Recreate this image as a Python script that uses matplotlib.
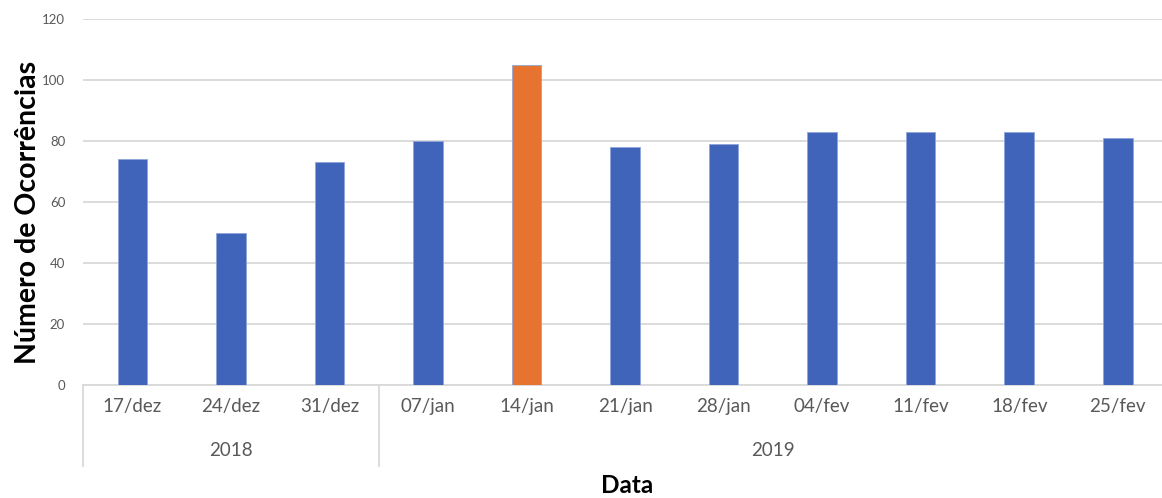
import numpy as np
import matplotlib.pyplot as plt
from matplotlib.transforms import blended_transform_factory

# ocorrencias semanais
datas = ["17/dez", "24/dez", "31/dez", "07/jan", "14/jan", "21/jan",
         "28/jan", "04/fev", "11/fev", "18/fev", "25/fev"]
ocorrencias = [74, 50, 73, 80, 105, 78, 79, 83, 83, 83, 81]
anos = ["2018", "2019"]
semanas_por_ano = [3, 8]
destaque = "14/jan"

azul = "#3F64B9"
laranja = "#E67330"
cinza_txt = "#595959"
cinza_linha = "#D9D9D9"

plt.rcParams['font.family'] = ['Lato', 'DejaVu Sans']

fig = plt.figure(figsize=(11.62, 4.98), dpi=100)
ax = fig.add_axes([0.0716, 0.2269, 0.9327, 0.7349])

x = np.arange(len(datas))
cores = [laranja if d == destaque else azul for d in datas]
ax.bar(x, ocorrencias, width=0.3, color=cores, edgecolor="#8FA6DA",
       linewidth=0.6, zorder=3)

ax.set_xlim(-0.5, len(datas) - 0.5)
ax.set_ylim(0, 120)
ax.set_yticks(range(0, 121, 20))
ax.yaxis.grid(True, color=cinza_linha, linewidth=1.3, zorder=0)
ax.tick_params(axis="y", length=0, pad=13, labelsize=9.5, labelcolor=cinza_txt)

ax.set_xticks(x)
ax.set_xticklabels(datas)
ax.tick_params(axis="x", length=0, pad=9, labelsize=13.5, labelcolor=cinza_txt)

for s in ["top", "right", "left"]:
    ax.spines[s].set_visible(False)
ax.spines["bottom"].set_color(cinza_linha)
ax.spines["bottom"].set_linewidth(1.3)

# agrupamento por ano abaixo das datas
trans = blended_transform_factory(ax.transData, ax.transAxes)
base = -0.221
inicio = -0.5
for ano, n in zip(anos, semanas_por_ano):
    ax.plot([inicio, inicio], [0, base], color=cinza_linha, linewidth=1.3,
            transform=trans, clip_on=False)
    ax.text(inicio + n / 2, -0.18, ano, transform=trans, ha="center",
            va="center", fontsize=13.5, color=cinza_txt)
    inicio += n

fig.text(0.024, 0.573, "Número de Ocorrências", rotation=90, ha="center",
         va="center", fontsize=20.5, fontweight="bold")
fig.text(0.5395, 0.026, "Data", ha="center", va="center", fontsize=17.5,
         fontweight="bold")

fig.savefig("out.png", dpi=100)
